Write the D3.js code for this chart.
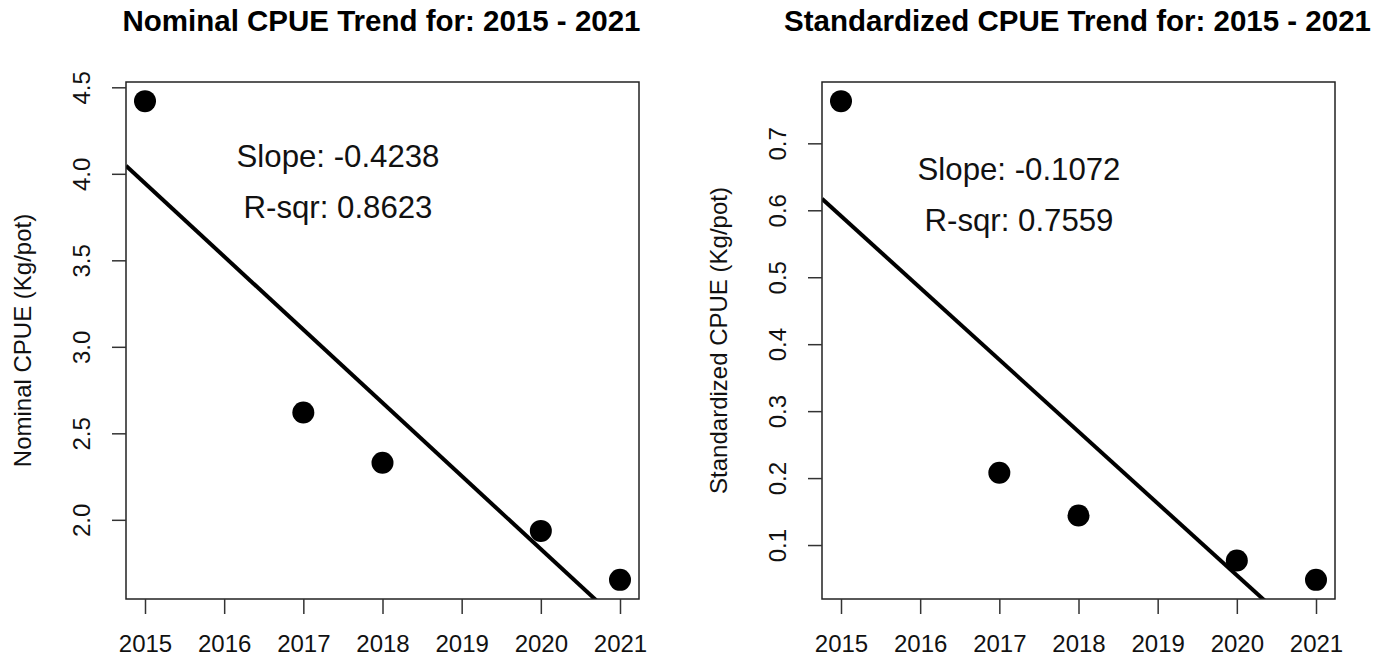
<!DOCTYPE html>
<html>
<head>
<meta charset="utf-8">
<script src="https://cdn.jsdelivr.net/npm/d3@7"></script>
<style>
  html, body { margin: 0; padding: 0; background: #fff; }
  svg { display: block; font-family: "Liberation Sans", Arial, Helvetica, sans-serif; }
</style>
</head>
<body>
<svg id="chart" width="1385" height="658"></svg>
<script>
// ---- data ----
const years = [2015, 2017, 2018, 2020, 2021];
const nominalCPUE = [4.42, 2.62, 2.33, 1.936, 1.653];
const standardizedCPUE = [0.763, 0.208, 0.144, 0.077, 0.048];
const xTickLabels = [2015, 2016, 2017, 2018, 2019, 2020, 2021];
const nominalYTicks = [2.0, 2.5, 3.0, 3.5, 4.0, 4.5];
const standardizedYTicks = [0.1, 0.2, 0.3, 0.4, 0.5, 0.6, 0.7];
const titles = ["Nominal CPUE Trend for: 2015 - 2021", "Standardized CPUE Trend for: 2015 - 2021"];
const yLabels = ["Nominal CPUE (Kg/pot)", "Standardized CPUE (Kg/pot)"];
const slopeTexts = ["Slope: -0.4238", "Slope: -0.1072"];
const rsqTexts = ["R-sqr: 0.8623", "R-sqr: 0.7559"];

(function () {
const svg = d3.select("#chart");

const panels = [
  { left: 126, right: 639, values: nominalCPUE, yTicks: nominalYTicks, yFmt: d3.format(".1f"), textX: 338, textY1: 167, textY2: 218 },
  { left: 822, right: 1335, values: standardizedCPUE, yTicks: standardizedYTicks, yFmt: d3.format(".1f"), textX: 1019, textY1: 180, textY2: 231 }
];
const plotTop = 82, plotBottom = 599;

function padExtent(arr) {
  const [a, b] = d3.extent(arr);
  const p = (b - a) * 0.04;
  return [a - p, b + p];
}

panels.forEach((P, i) => {
  const x = d3.scaleLinear().domain(padExtent(xTickLabels)).range([P.left, P.right]);
  const y = d3.scaleLinear().domain(padExtent(P.values)).range([plotBottom, plotTop]);
  const g = svg.append("g");

  const cid = "clip" + i;
  svg.append("clipPath").attr("id", cid).append("rect")
    .attr("x", P.left).attr("y", plotTop).attr("width", P.right - P.left).attr("height", plotBottom - plotTop);

  // regression line (least squares from the data)
  const mx = d3.mean(years), my = d3.mean(P.values);
  const sxy = d3.sum(years, (d, k) => (d - mx) * (P.values[k] - my));
  const sxx = d3.sum(years, d => (d - mx) * (d - mx));
  const b = sxy / sxx, a = my - b * mx;
  const [x0, x1] = x.domain();
  g.append("line")
    .attr("clip-path", `url(#${cid})`)
    .attr("x1", x(x0)).attr("y1", y(a + b * x0))
    .attr("x2", x(x1)).attr("y2", y(a + b * x1))
    .attr("stroke", "#000").attr("stroke-width", 4);

  // points
  g.selectAll("circle").data(years).join("circle")
    .attr("cx", d => x(d)).attr("cy", (d, k) => y(P.values[k]))
    .attr("r", 11).attr("fill", "#000");

  // box
  g.append("rect")
    .attr("x", P.left).attr("y", plotTop).attr("width", P.right - P.left).attr("height", plotBottom - plotTop)
    .attr("fill", "none").attr("stroke", "#222").attr("stroke-width", 1.5);

  // x axis
  const xAxis = d3.axisBottom(x).tickValues(xTickLabels).tickFormat(d3.format("d")).tickSize(15);
  const xa = g.append("g").attr("transform", `translate(0,${plotBottom})`).call(xAxis);
  xa.select(".domain").remove();
  xa.selectAll(".tick line").attr("stroke", "#333").attr("stroke-width", 1.5);
  xa.selectAll(".tick text").attr("font-size", 24).attr("fill", "#111")
    .attr("font-family", "Liberation Sans, Arial, sans-serif").attr("dy", null).attr("y", 53);

  // y axis
  const yAxis = d3.axisLeft(y).tickValues(P.yTicks).tickFormat(P.yFmt).tickSize(14);
  const ya = g.append("g").attr("transform", `translate(${P.left},0)`).call(yAxis);
  ya.select(".domain").remove();
  ya.selectAll(".tick line").attr("stroke", "#333").attr("stroke-width", 1.5);
  ya.selectAll(".tick text")
    .attr("font-size", 24).attr("fill", "#111")
    .attr("font-family", "Liberation Sans, Arial, sans-serif")
    .attr("x", null).attr("dy", null)
    .attr("text-anchor", "middle")
    .attr("transform", "translate(-36,0) rotate(-90)");

  // y label
  g.append("text")
    .attr("transform", `translate(${P.left - 95},${(plotTop + plotBottom) / 2}) rotate(-90)`)
    .attr("text-anchor", "middle").attr("font-size", 24).attr("fill", "#111")
    .text(yLabels[i]);

  // title
  g.append("text")
    .attr("x", (P.left + P.right) / 2 - 1).attr("y", 31)
    .attr("text-anchor", "middle").attr("font-size", 29.5).attr("font-weight", "bold").attr("fill", "#000")
    .text(titles[i]);

  // annotation
  g.append("text").attr("x", P.textX).attr("y", P.textY1)
    .attr("text-anchor", "middle").attr("font-size", 31.2).attr("fill", "#111").text(slopeTexts[i]);
  g.append("text").attr("x", P.textX).attr("y", P.textY2)
    .attr("text-anchor", "middle").attr("font-size", 31.2).attr("fill", "#111").text(rsqTexts[i]);
});
})();
</script>
</body>
</html>
